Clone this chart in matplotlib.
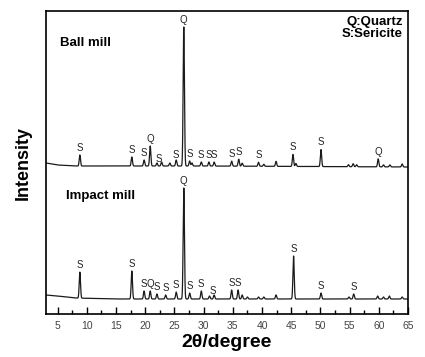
#!/usr/bin/env python3

import numpy as np
import matplotlib.pyplot as plt
from matplotlib.ticker import MultipleLocator

plt.rcParams["font.family"] = ["Liberation Sans", "DejaVu Sans"]

# baseline knots (2theta, intensity in arbitrary units)
ball_base_x = [3, 5, 8, 30, 65]
ball_base_y = [151, 149, 148, 148, 147]
impact_base_x = [3, 5, 8, 15, 65]
impact_base_y = [19, 18, 16, 15, 15]

# peak positions and heights above baseline
ball_pos = [8.8, 17.7, 19.8, 20.85, 22.0, 22.8, 24.2, 25.3, 26.6, 27.6, 28.0,
            29.6, 30.9, 31.8, 34.8, 36.0, 36.6, 39.4, 40.3, 42.4, 45.3, 45.8,
            50.1, 54.8, 55.6, 56.2, 59.9, 60.8, 61.9, 64.0]
ball_h = [11, 9, 6, 20, 3, 4, 3, 6, 139, 5, 3,
          4, 4, 4, 5, 7, 3, 4, 2, 5, 12, 3,
          17, 2, 3, 2, 8, 2, 2, 3]
impact_pos = [8.8, 17.7, 19.8, 20.85, 22.0, 23.5, 25.3, 26.6, 27.6, 29.6,
              31.0, 31.8, 34.8, 35.9, 36.6, 37.5, 39.4, 40.3, 42.4, 45.4,
              50.1, 54.9, 55.7, 59.8, 60.8, 61.8, 64.0]
impact_h = [26, 28, 8, 8, 5, 4, 7, 111, 6, 8,
            3, 4, 9, 9, 4, 2, 2, 2, 4, 43,
            6, 2, 5, 3, 2, 3, 2]

# phase labels: (2theta, letter)
ball_labels = [(8.8, "S"), (17.7, "S"), (19.8, "S"), (20.85, "Q"), (22.3, "S"),
               (25.2, "S"), (26.6, "Q"), (27.6, "S"), (29.6, "S"), (30.9, "S"),
               (31.8, "S"), (34.8, "S"), (36.0, "S"), (39.4, "S"), (45.3, "S"),
               (50.1, "S"), (59.9, "Q")]
impact_labels = [(8.8, "S"), (17.7, "S"), (19.8, "S"), (20.85, "Q"), (22.0, "S"),
                 (23.5, "S"), (25.3, "S"), (26.6, "Q"), (27.6, "S"), (29.6, "S"),
                 (31.6, "S"), (34.8, "S"), (35.9, "S"), (45.4, "S"), (50.1, "S"),
                 (55.7, "S")]


def profile(tt, base_x, base_y, pos, h, width=0.11):
    y = np.interp(tt, base_x, base_y)
    for p, a in zip(pos, h):
        y = y + a * np.exp(-0.5 * ((tt - p) / width) ** 2)
    return y


def peak_top(x, base_x, base_y, pos, h):
    return float(profile(np.array([x]), base_x, base_y, pos, h)[0])


def main():
    tt = np.arange(3, 65.001, 0.01)
    ball = profile(tt, ball_base_x, ball_base_y, ball_pos, ball_h)
    impact = profile(tt, impact_base_x, impact_base_y, impact_pos, impact_h)

    fig = plt.figure(figsize=(4.25, 3.57), dpi=100)
    ax = fig.add_axes([46 / 425, 1 - 314 / 357, 362 / 425, 303 / 357])

    ax.plot(tt, ball, color="#1a1a1a", lw=0.9)
    ax.plot(tt, impact, color="#1a1a1a", lw=0.9)

    for data, (bx, by, pos, h) in [
        (ball_labels, (ball_base_x, ball_base_y, ball_pos, ball_h)),
        (impact_labels, (impact_base_x, impact_base_y, impact_pos, impact_h)),
    ]:
        for x, s in data:
            top = peak_top(x, bx, by, pos, h)
            ax.annotate(s, (x, top), xytext=(0, 1.5), textcoords="offset points",
                        ha="center", va="bottom", fontsize=7, color="#222222")

    ax.text(0.04, 0.895, "Ball mill", transform=ax.transAxes, fontsize=9.5,
            fontweight="bold", ha="left", va="center")
    ax.text(0.055, 0.39, "Impact mill", transform=ax.transAxes, fontsize=9.5,
            fontweight="bold", ha="left", va="center")
    ax.text(0.985, 0.985, "Q:Quartz\nS:Sericite", transform=ax.transAxes,
            fontsize=9.5, fontweight="bold", ha="right", va="top",
            linespacing=1.0)

    ax.set_xlim(3, 65)
    ax.set_ylim(0, 303)
    ax.xaxis.set_major_locator(MultipleLocator(5))
    ax.xaxis.set_minor_locator(MultipleLocator(2.5))
    ax.tick_params(axis="x", which="major", direction="in", length=5,
                   width=1, labelsize=7.5, labelcolor="#444444", pad=5)
    ax.tick_params(axis="x", which="minor", direction="in", length=3, width=1)
    ax.set_yticks([])
    for sp in ax.spines.values():
        sp.set_linewidth(1.2)

    ax.set_xlabel("2\u03b8/degree", fontsize=14, fontweight="bold", labelpad=2)
    ax.set_ylabel("Intensity", fontsize=13, fontweight="bold", labelpad=10)

    fig.savefig("out.png", dpi=100)
    plt.close(fig)


if __name__ == "__main__":
    main()
